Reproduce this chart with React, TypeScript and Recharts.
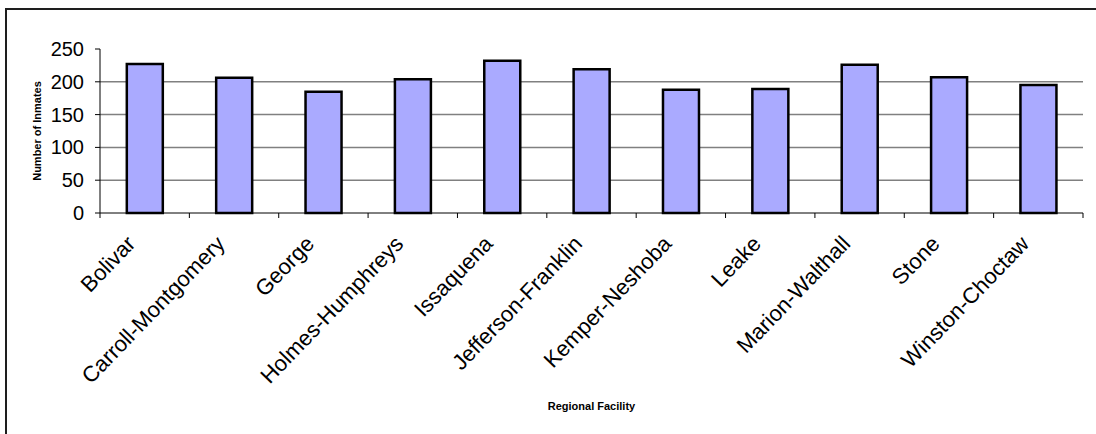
import React from "react";
import { BarChart, Bar, XAxis, YAxis, CartesianGrid, Label } from "recharts";

const facilities = [
  "Bolivar",
  "Carroll-Montgomery",
  "George",
  "Holmes-Humphreys",
  "Issaquena",
  "Jefferson-Franklin",
  "Kemper-Neshoba",
  "Leake",
  "Marion-Walthall",
  "Stone",
  "Winston-Choctaw",
];
const inmates = [227, 206, 185, 204, 232, 219, 188, 189, 226, 207, 195];
const yTicks = [0, 50, 100, 150, 200, 250];
const gridValues = [50, 100, 150, 200];

const data = facilities.map((name, i) => ({ name, value: inmates[i] }));

const FONT = "'Liberation Sans', Arial, sans-serif";

const CategoryTick = (props: any) => {
  const { x, y, payload, index } = props;
  const off = payload && payload.offset ? payload.offset : 0;
  const isLast = index === facilities.length - 1;
  const ax = x - 8;
  const ay = y + 32;
  return (
    <g>
      <line x1={x - off} y1={y} x2={x - off} y2={y + 5} stroke="#000" strokeWidth={1} />
      {isLast && (
        <line x1={x + off} y1={y} x2={x + off} y2={y + 5} stroke="#000" strokeWidth={1} />
      )}
      <text
        x={ax}
        y={ay}
        transform={`rotate(-46, ${ax}, ${ay})`}
        textAnchor="end"
        fontFamily={FONT}
        fontSize={22}
        fill="#000"
      >
        {payload.value}
      </text>
    </g>
  );
};

const ValueTick = (props: any) => {
  const { x, y, payload } = props;
  return (
    <text
      x={x}
      y={y}
      textAnchor="end"
      dominantBaseline="central"
      fontFamily={FONT}
      fontSize={20}
      fill="#000"
    >
      {payload.value}
    </text>
  );
};

export default function App() {
  return (
    <div
      style={{
        position: "absolute",
        left: 0,
        top: 0,
        width: 1096,
        height: 434,
        overflow: "hidden",
        background: "#fff",
      }}
    >
      <div
        style={{
          position: "absolute",
          left: 5,
          top: 8,
          width: 1300,
          height: 600,
          borderLeft: "2px solid #1e1e1e",
          borderTop: "2px solid #1e1e1e",
        }}
      />
      <div style={{ position: "absolute", left: 0, top: 0 }}>
        <BarChart
          width={1096}
          height={434}
          data={data}
          margin={{ top: 49, right: 13, bottom: 0, left: 6 }}
          barCategoryGap="30%"
        >
          <CartesianGrid
            horizontal={true}
            vertical={false}
            horizontalValues={gridValues}
            stroke="#808080"
            strokeWidth={1.5}
          />
          <XAxis
            dataKey="name"
            interval={0}
            height={221}
            tickLine={false}
            tickSize={0}
            tickMargin={0}
            axisLine={{ stroke: "#000", strokeWidth: 1 }}
            tick={<CategoryTick />}
          >
            <Label
              content={(p: any) => {
                const vb = p.viewBox;
                return (
                  <text
                    x={vb.x + vb.width / 2}
                    y={vb.y + 197}
                    textAnchor="middle"
                    fontFamily={FONT}
                    fontWeight="bold"
                    fontSize={11}
                    fill="#000"
                  >
                    Regional Facility
                  </text>
                );
              }}
            />
          </XAxis>
          <YAxis
            width={94}
            domain={[0, 250]}
            ticks={yTicks}
            interval={0}
            tickSize={5}
            tickMargin={11}
            tickLine={{ stroke: "#000", strokeWidth: 1 }}
            axisLine={{ stroke: "#000", strokeWidth: 1 }}
            tick={<ValueTick />}
          >
            <Label
              content={(p: any) => {
                const vb = p.viewBox;
                const cx = vb.x + 31;
                const cy = vb.y + vb.height / 2;
                return (
                  <text
                    x={cx}
                    y={cy}
                    transform={`rotate(-90, ${cx}, ${cy})`}
                    textAnchor="middle"
                    dominantBaseline="central"
                    fontFamily={FONT}
                    fontWeight="bold"
                    fontSize={11}
                    fill="#000"
                  >
                    Number of Inmates
                  </text>
                );
              }}
            />
          </YAxis>
          <Bar
            dataKey="value"
            fill="#aaaaff"
            stroke="#000"
            strokeWidth={2.5}
            isAnimationActive={false}
          />
        </BarChart>
      </div>
    </div>
  );
}
